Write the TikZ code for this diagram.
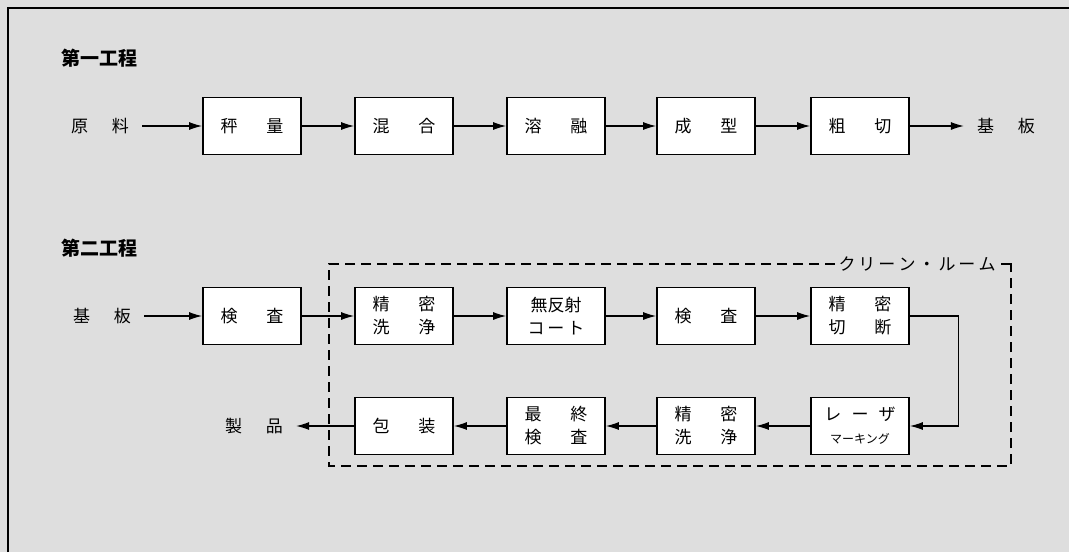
\documentclass[tikz,border=0pt]{standalone}
\usepackage{fontspec}
\setmainfont{Noto Sans CJK JP}
\usetikzlibrary{arrows.meta}

\definecolor{paper}{gray}{0.87}

\tikzset{
  box/.style={draw,line width=1.7pt,fill=white,minimum width=98pt,
    minimum height=57pt,inner sep=0pt,align=center,
    font=\fontsize{17}{23}\selectfont},
  term/.style={inner xsep=13pt,font=\fontsize{17}{20}\selectfont},
  head/.style={font=\fontsize{19}{22}\selectfont\bfseries}
}

\begin{document}
\begin{tikzpicture}[x=1pt,y=-1pt,>={Latex[length=13pt,width=8pt]}]

  \useasboundingbox[fill=paper] (0,0) rectangle (1069,552);
  \draw[line width=1.5pt] (8,552) -- (8,8) -- (1069,8);

  \node[head] (h1) at (99,58)  {第一工程};
  \node[head] (h2) at (99,248) {第二工程};

  % clean room
  \draw[line width=1.4pt,dash pattern=on 10pt off 6pt] (1011,264) -- (329,264) -- (329,466) -- (1011,466) -- cycle;
  \node[fill=paper,inner xsep=4pt,inner ysep=2pt,font=\fontsize{17}{20}\selectfont] (cr) at (917,264)
    {ク\hspace{3pt}リ\hspace{3pt}ー\hspace{3pt}ン\hspace{3pt}・\hspace{3pt}ル\hspace{3pt}ー\hspace{3pt}ム};
  \draw[line width=1.4pt] (1003,264) -- (1011,264) -- (1011,272);

  \begin{scope}[every node/.style={box}]
    \node (1)  at (252,126) {秤\hspace{1.7em}量};
    \node (2)  at (404,126) {混\hspace{1.7em}合};
    \node (3)  at (556,126) {溶\hspace{1.7em}融};
    \node (4)  at (706,126) {成\hspace{1.7em}型};
    \node (5)  at (860,126) {粗\hspace{1.7em}切};
    \node (6)  at (252,316) {検\hspace{1.7em}査};
    \node (7)  at (404,316) {精\hspace{1.7em}密\\洗\hspace{1.7em}浄};
    \node (8)  at (556,316) {無反射\\コ\,ー\,ト};
    \node (9)  at (706,316) {検\hspace{1.7em}査};
    \node (10) at (860,316) {精\hspace{1.7em}密\\切\hspace{1.7em}断};
    \node (11) at (860,426) {レ\hspace{0.6em}ー\hspace{0.6em}ザ\\{\fontsize{12}{14}\selectfont マーキング}};
    \node (12) at (706,426) {精\hspace{1.7em}密\\洗\hspace{1.7em}浄};
    \node (13) at (556,426) {最\hspace{1.7em}終\\検\hspace{1.7em}査};
    \node (14) at (404,426) {包\hspace{1.7em}装};
  \end{scope}

  \begin{scope}[every node/.style={term}]
    \node (a) at (100,126)  {原\hspace{1.4em}料};
    \node (b) at (1006,126) {基\hspace{1.4em}板};
    \node (c) at (102,316)  {基\hspace{1.4em}板};
    \node (d) at (254,426)  {製\hspace{1.4em}品};
  \end{scope}

  \begin{scope}[every edge/.style={draw,->,line width=1.2pt}]
    \path (a)  edge (1);
    \path (1)  edge (2);
    \path (2)  edge (3);
    \path (3)  edge (4);
    \path (4)  edge (5);
    \path (5)  edge (b);
    \path (c)  edge (6);
    \path (6)  edge (7);
    \path (7)  edge (8);
    \path (8)  edge (9);
    \path (9)  edge (10);
    \path (11) edge (12);
    \path (12) edge (13);
    \path (13) edge (14);
    \path (14) edge (d);
  \end{scope}
  \draw[->,line width=1.2pt] (10.east) -- ++(49,0) |- (11);

\end{tikzpicture}
\end{document}
